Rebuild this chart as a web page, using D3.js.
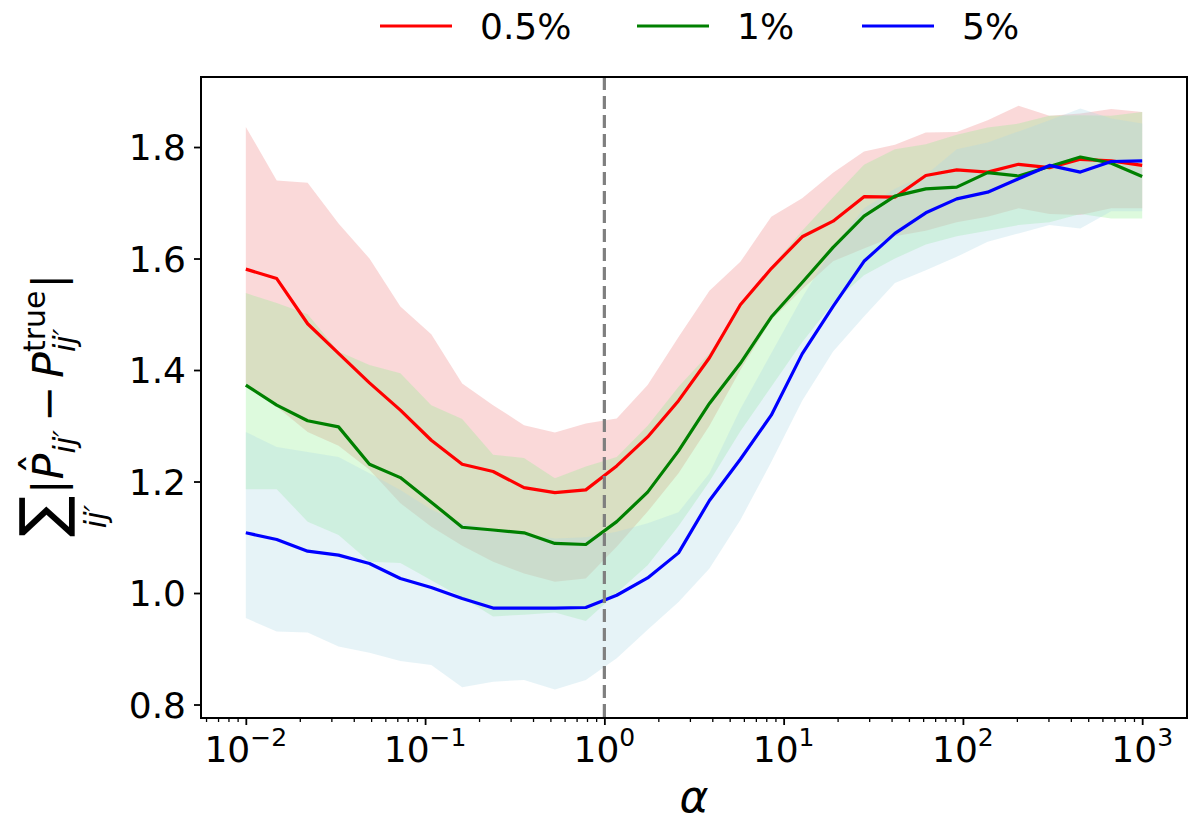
<!DOCTYPE html>
<html>
<head>
<meta charset="utf-8">
<script src="https://cdn.jsdelivr.net/npm/d3@7"></script>
<style>
body { margin: 0; background: #fff; }
text { font-family: "DejaVu Sans", sans-serif; fill: #000; }
</style>
</head>
<body>
<script>
// chart size
var w = 1200;
var h = 828;

// alpha values (x axis, log spaced)
var alphas = [0.01, 0.014874, 0.022122, 0.032903, 0.048939, 0.072790, 0.108264, 0.161026,
	0.239503, 0.356225, 0.529832, 0.788046, 1.172102, 1.743329, 2.592944, 3.856620,
	5.736153, 8.531679, 12.68961, 18.87392, 28.07216, 41.75319, 62.10169, 92.36709,
	137.3824, 204.3360, 303.9195, 452.0354, 672.3358, 1000];

// 0.5% series
var redMean = [1.581,1.564,1.483,1.430,1.377,1.328,1.274,1.231,1.218,1.189,1.180,1.185,1.228,1.280,1.345,
	1.422,1.517,1.582,1.639,1.667,1.711,1.710,1.749,1.759,1.755,1.769,1.763,1.778,1.775,1.767];
var redLow = [1.376,1.334,1.289,1.264,1.221,1.161,1.119,1.085,1.056,1.035,1.020,1.026,1.083,1.146,1.215,
	1.300,1.400,1.490,1.545,1.595,1.618,1.640,1.650,1.665,1.675,1.690,1.680,1.678,1.690,1.690];
var redHigh = [1.836,1.740,1.736,1.663,1.600,1.514,1.464,1.376,1.337,1.301,1.288,1.304,1.313,1.373,1.459,
	1.542,1.594,1.675,1.708,1.754,1.792,1.804,1.826,1.827,1.848,1.874,1.856,1.860,1.868,1.863];

// 1% series
var greenMean = [1.373,1.337,1.309,1.298,1.231,1.207,1.163,1.118,1.113,1.108,1.089,1.087,1.128,1.181,1.255,
	1.340,1.412,1.495,1.557,1.620,1.676,1.712,1.725,1.728,1.754,1.748,1.765,1.782,1.771,1.747];
var greenLow = [1.186,1.186,1.128,1.104,1.056,1.054,1.023,0.992,0.958,0.961,0.965,0.950,1.000,1.050,1.120,
	1.200,1.290,1.370,1.450,1.520,1.570,1.600,1.625,1.640,1.650,1.660,1.665,1.680,1.672,1.672];
var greenHigh = [1.538,1.520,1.500,1.433,1.409,1.394,1.337,1.312,1.248,1.242,1.206,1.227,1.244,1.300,1.370,
	1.430,1.515,1.585,1.650,1.710,1.768,1.796,1.805,1.822,1.835,1.842,1.856,1.857,1.856,1.863];

// 5% series
var blueMean = [1.108,1.096,1.075,1.068,1.053,1.026,1.010,0.990,0.973,0.973,0.973,0.974,0.996,1.027,1.072,
	1.166,1.240,1.319,1.429,1.514,1.595,1.645,1.682,1.707,1.719,1.743,1.767,1.755,1.774,1.775];
var blueLow = [0.955,0.931,0.929,0.904,0.893,0.878,0.871,0.831,0.841,0.844,0.827,0.844,0.883,0.934,0.984,
	1.044,1.131,1.235,1.345,1.433,1.496,1.556,1.579,1.603,1.630,1.645,1.660,1.654,1.685,1.685];
var blueHigh = [1.289,1.262,1.253,1.244,1.215,1.185,1.150,1.125,1.115,1.105,1.098,1.100,1.110,1.125,1.145,
	1.215,1.330,1.430,1.530,1.620,1.690,1.725,1.750,1.796,1.808,1.828,1.848,1.869,1.851,1.842];

var seriesLabels = ["0.5%", "1%", "5%"];
var yTicks = [0.8, 1.0, 1.2, 1.4, 1.6, 1.8];
var xTicks = [0.01, 0.1, 1, 10, 100, 1000];
var xTickExp = ["\u22122", "\u22121", "0", "1", "2", "3"];

var series = [
	{label: seriesLabels[0], mean: redMean, low: redLow, high: redHigh, color: "#ff0000", fill: "lightcoral"},
	{label: seriesLabels[1], mean: greenMean, low: greenLow, high: greenHigh, color: "#008000", fill: "lightgreen"},
	{label: seriesLabels[2], mean: blueMean, low: blueLow, high: blueHigh, color: "#0000ff", fill: "lightblue"}
];

// plot box
var plot_left = 201, plot_right = 1187, plot_top = 77, plot_bottom = 718;

var x_scale = d3.scaleLog()
	.domain([Math.pow(10, -2.25), Math.pow(10, 3.25)])
	.range([plot_left, plot_right]);

var y_scale = d3.scaleLinear()
	.domain([0.7758, 1.9256])
	.range([plot_bottom, plot_top]);

var svg = d3.select("body")
	.append("svg")
	.attr("width", w)
	.attr("height", h);

svg.append("rect").attr("width", w).attr("height", h).attr("fill", "#fff");

// shaded bands first
var band = d3.area()
	.x(function(d, i) { return x_scale(alphas[i]); })
	.y0(function(d) { return y_scale(d[0]); })
	.y1(function(d) { return y_scale(d[1]); });

series.forEach(function(s) {
	var pts = s.low.map(function(v, i) { return [v, s.high[i]]; });
	svg.append("path")
		.attr("d", band(pts))
		.attr("fill", s.fill)
		.attr("fill-opacity", 0.3);
});

// mean lines
var line = d3.line()
	.x(function(d, i) { return x_scale(alphas[i]); })
	.y(function(d) { return y_scale(d); });

series.forEach(function(s) {
	svg.append("path")
		.attr("d", line(s.mean))
		.attr("fill", "none")
		.attr("stroke", s.color)
		.attr("stroke-width", 3.2)
		.attr("stroke-linejoin", "round");
});

// dashed line at alpha = 1
svg.append("line")
	.attr("x1", x_scale(1)).attr("x2", x_scale(1))
	.attr("y1", plot_top).attr("y2", plot_bottom)
	.attr("stroke", "#7f7f7f")
	.attr("stroke-width", 3.2)
	.attr("stroke-dasharray", "13,6");

// axes
var y_axis = d3.axisLeft(y_scale)
	.tickValues(yTicks)
	.tickFormat(d3.format(".1f"))
	.tickSize(7)
	.tickPadding(8);

var gy = svg.append("g")
	.attr("transform", "translate(" + plot_left + ",0)")
	.call(y_axis);
gy.select(".domain").remove();
gy.selectAll("line").attr("stroke", "#000").attr("stroke-width", 1.8);
gy.selectAll("text")
	.style("font-family", "DejaVu Sans")
	.style("font-size", "36px")
	.attr("dy", "0.36em");

var minorTicks = [];
for (var e = -3; e <= 3; e++) {
	for (var m = 2; m <= 9; m++) {
		var v = m * Math.pow(10, e);
		if (v > x_scale.domain()[0] && v < x_scale.domain()[1]) minorTicks.push(v);
	}
}

var x_minor = d3.axisBottom(x_scale).tickValues(minorTicks).tickFormat("").tickSize(4);
var gxm = svg.append("g").attr("transform", "translate(0," + plot_bottom + ")").call(x_minor);
gxm.select(".domain").remove();
gxm.selectAll("line").attr("stroke", "#000").attr("stroke-width", 1.3);

var x_axis = d3.axisBottom(x_scale).tickValues(xTicks).tickFormat("").tickSize(7);
var gx = svg.append("g").attr("transform", "translate(0," + plot_bottom + ")").call(x_axis);
gx.select(".domain").remove();
gx.selectAll("line").attr("stroke", "#000").attr("stroke-width", 1.8);

xTicks.forEach(function(t, i) {
	var lbl = svg.append("text")
		.attr("x", x_scale(t))
		.attr("y", 762)
		.attr("text-anchor", "middle")
		.style("font-size", "36px");
	lbl.append("tspan").text("10");
	lbl.append("tspan").attr("dy", -16).style("font-size", "25px").text(xTickExp[i]);
});

// frame
svg.append("rect")
	.attr("x", plot_left).attr("y", plot_top)
	.attr("width", plot_right - plot_left).attr("height", plot_bottom - plot_top)
	.attr("fill", "none")
	.attr("stroke", "#000")
	.attr("stroke-width", 2);

// x label
svg.append("text")
	.attr("x", (plot_left + plot_right) / 2)
	.attr("y", 812)
	.attr("text-anchor", "middle")
	.style("font-size", "44px")
	.style("font-style", "italic")
	.text("\u03b1");

// y label, built piece by piece
var yl = svg.append("g").attr("transform", "translate(63,537) rotate(-90)");
var cx = 0;
function piece(txt, size, italic, dy, advance) {
	var t = yl.append("text")
		.attr("x", cx).attr("y", dy)
		.style("font-size", size + "px")
		.style("font-style", italic ? "italic" : "normal")
		.text(txt);
	var wd = t.node().getComputedTextLength();
	if (advance) cx += wd;
	return wd;
}
var sumW = piece("\u2211", 61, false, 0, true);
yl.append("text")
	.attr("x", sumW / 2).attr("y", 43)
	.attr("text-anchor", "middle")
	.style("font-size", "30px").style("font-style", "italic")
	.text("ij\u2032");
cx += 2;
piece("|", 43, false, 0, true);
var pStart = cx;
var pW = piece("P", 43, true, 0, true);
yl.append("text")
	.attr("x", pStart + pW * 0.6).attr("y", -11)
	.attr("text-anchor", "middle")
	.style("font-size", "43px")
	.text("\u02c6");
piece("ij\u2032", 30, true, 12, true);
cx += 8;
piece("\u2212", 43, false, 0, true);
cx += 8;
piece("P", 43, true, 0, true);
var subW = piece("ij\u2032", 30, true, 12, false);
var supW = piece("true", 30, false, -18, false);
cx += Math.max(subW, supW) + 2;
piece("|", 43, false, 0, true);

// legend above the plot
var legendX = [380, 637, 862];
series.forEach(function(s, i) {
	svg.append("line")
		.attr("x1", legendX[i]).attr("x2", legendX[i] + 72)
		.attr("y1", 26).attr("y2", 26)
		.attr("stroke", s.color)
		.attr("stroke-width", 3.2);
	svg.append("text")
		.attr("x", legendX[i] + 100)
		.attr("y", 39)
		.style("font-size", "36px")
		.text(s.label);
});
</script>
</body>
</html>
